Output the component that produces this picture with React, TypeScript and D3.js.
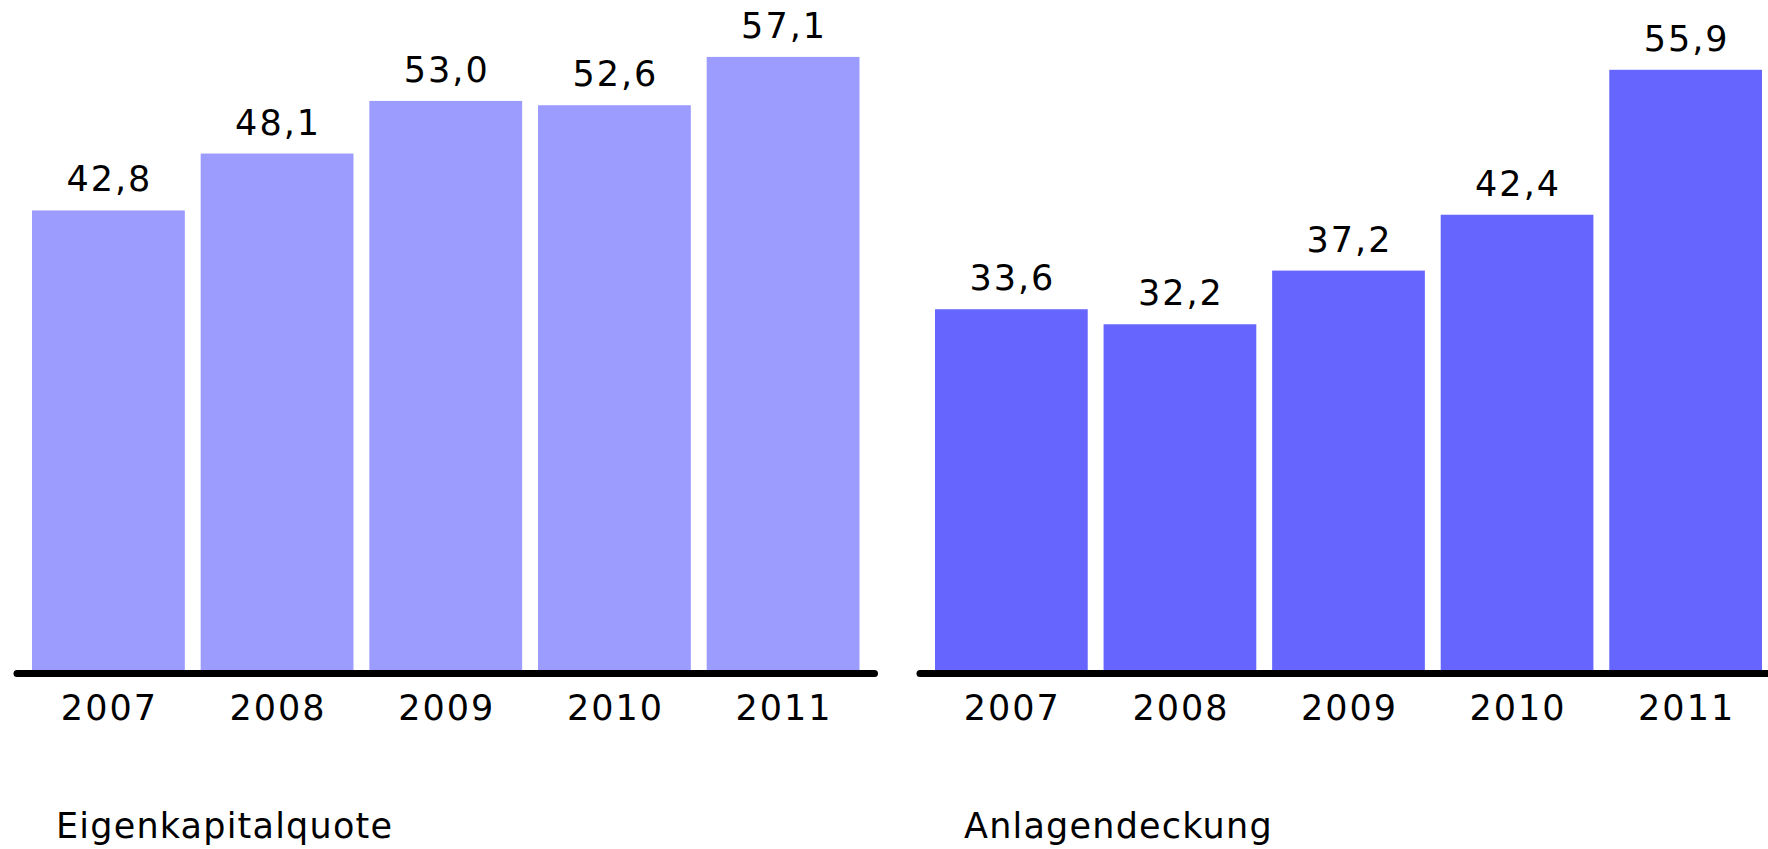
import React from 'react';
import * as d3 from 'd3';

const years = ['2007', '2008', '2009', '2010', '2011'];
const eigenkapitalquote = [42.8, 48.1, 53.0, 52.6, 57.1];
const anlagendeckung = [33.6, 32.2, 37.2, 42.4, 55.9];

const W = 1768;
const H = 849;
const baseY = 670;
const FONT = '"DejaVu Sans", Verdana, sans-serif';

const y = d3.scaleLinear().domain([0, 62.4]).range([baseY, 0]);
const fmt = (v: number) => d3.format('.1f')(v).replace('.', ',');

const panels = [
  { title: 'Eigenkapitalquote', values: eigenkapitalquote, color: '#9c9cff', range: [32, 859.5], titleDx: 24 },
  { title: 'Anlagendeckung', values: anlagendeckung, color: '#6666ff', range: [935, 1762], titleDx: 29 },
];

function Panel({ title, values, color, range, titleDx }: any) {
  const x = d3.scaleBand<string>().domain(years).range(range).paddingInner(0.094).paddingOuter(0);
  const cx = (yr: string) => x(yr)! + x.bandwidth() / 2;
  return (
    <g>
      {years.map((yr, i) => (
        <rect key={yr} x={x(yr)} y={y(values[i])} width={x.bandwidth()} height={baseY - y(values[i])} fill={color} />
      ))}
      <line x1={range[0] - 15} x2={range[1] + 15} y1={673.5} y2={673.5} stroke="#000" strokeWidth={7} strokeLinecap="round" />
      {years.map((yr, i) => (
        <text key={'v' + yr} x={cx(yr) + 1} y={y(values[i]) - 19} textAnchor="middle" fontSize={35} letterSpacing={2}>
          {fmt(values[i])}
        </text>
      ))}
      {years.map((yr) => (
        <text key={'c' + yr} x={cx(yr) + 1} y={720} textAnchor="middle" fontSize={35} letterSpacing={2}>
          {yr}
        </text>
      ))}
      <text x={range[0] + titleDx} y={838} fontSize={35} letterSpacing={1.2}>{title}</text>
    </g>
  );
}

export default function App() {
  return (
    <svg width={W} height={H} style={{ position: 'absolute', left: 0, top: 0, background: '#fff' }} fontFamily={FONT}>
      {panels.map((p) => (
        <Panel key={p.title} {...p} />
      ))}
    </svg>
  );
}
